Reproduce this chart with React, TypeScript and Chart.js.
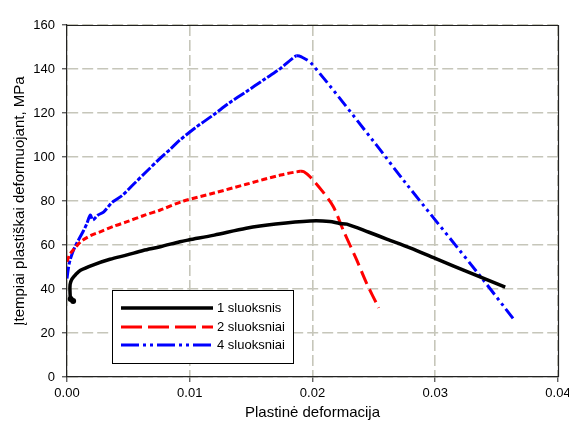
import React, { useEffect, useRef } from 'react';
import { Chart, registerables } from 'chart.js';

Chart.register(...registerables);

// ---- data ----
const seriesLabels = ['1 sluoksnis', '2 sluoksniai', '4 sluoksniai'];

const strain1 = [0.0005, 0.0003, 0.00025, 0.00025, 0.0004, 0.0007, 0.0011, 0.0021, 0.0035, 0.0049, 0.0062, 0.0076, 0.0092, 0.0099, 0.012, 0.0146, 0.017, 0.0198, 0.0214, 0.0222, 0.0228, 0.0246, 0.0261, 0.028, 0.03, 0.033, 0.0357];
const stress1 = [34.5, 35.5, 38, 42, 44.5, 46.5, 48.5, 50.9, 53.5, 55.5, 57.5, 59.2, 61.5, 62.3, 64.5, 67.6, 69.5, 70.9, 70.7, 69.8, 69.5, 65.8, 62.6, 58.6, 53.9, 47, 40.8];

const strain2 = [0, 0.0002, 0.0005, 0.0009, 0.0013, 0.002, 0.0027, 0.0038, 0.0049, 0.0062, 0.0076, 0.0095, 0.0119, 0.0146, 0.0174, 0.019, 0.0193, 0.0198, 0.0208, 0.0217, 0.0225, 0.0236, 0.0244, 0.0254];
const stress2 = [52.4, 55.5, 57.7, 60.3, 62.3, 64.5, 66, 68.5, 70.6, 73.3, 75.9, 80, 83.5, 87.6, 91.8, 93.5, 93.3, 91, 84.5, 77.4, 66.8, 53.2, 42.7, 31.4];

const strain4 = [0, 0.0001, 0.00025, 0.00065, 0.0013, 0.0016, 0.0019, 0.0021, 0.0025, 0.003, 0.0037, 0.0045, 0.0054, 0.0065, 0.0076, 0.0084, 0.0092, 0.0105, 0.0119, 0.0132, 0.0146, 0.016, 0.0174, 0.0183, 0.0187, 0.0191, 0.0199, 0.0252, 0.0274, 0.0337, 0.0364];
const stress4 = [44.8, 49, 53.2, 59.2, 66, 69.5, 73.6, 71.4, 73.5, 75.1, 79.5, 82.5, 87.5, 93.5, 99.5, 103.5, 107.7, 113.5, 119, 124.5, 129.7, 135, 140.3, 144.5, 146, 145.5, 142.6, 105.5, 89.5, 45.6, 26.2];

const xTickValues = [0, 0.01, 0.02, 0.03, 0.04];
const yTickValues = [0, 20, 40, 60, 80, 100, 120, 140, 160];

const xTitle = 'Plastinė deformacija';
const yTitle = 'Įtempiai plastiškai deformuojant, MPa';

// ---- styles ----
const colors = ['#000000', '#ff0000', '#0000ff'];
const legendDashes = [[], [21, 6], [18, 4, 3, 4, 3, 4]];
const FONT = '"Liberation Sans", Arial, sans-serif';
const GRID = '#c6c6ba';

const toPoints = (xs: number[], ys: number[]) => xs.map((x, i) => ({ x, y: ys[i] }));

const framePlugin = {
  id: 'frameAndLegend',
  afterDraw(chart: any) {
    const { ctx, chartArea } = chart;
    ctx.save();
    ctx.strokeStyle = '#222';
    ctx.lineWidth = 1.2;
    ctx.setLineDash([]);
    ctx.beginPath();
    ctx.moveTo(chartArea.left, chartArea.top + 0.5);
    ctx.lineTo(chartArea.right + 0.5, chartArea.top + 0.5);
    ctx.lineTo(chartArea.right + 0.5, chartArea.bottom);
    ctx.stroke();

    const bx = chartArea.left + 45;
    const by = chartArea.top + 265;
    const bw = 181;
    const bh = 73;
    ctx.fillStyle = '#fff';
    ctx.fillRect(bx, by, bw, bh);
    ctx.strokeStyle = '#000';
    ctx.lineWidth = 1;
    ctx.strokeRect(bx + 0.5, by + 0.5, bw, bh);
    const rows = [18, 37, 55];
    chart.data.datasets.forEach((ds: any, i: number) => {
      const y = by + rows[i];
      ctx.strokeStyle = ds.borderColor;
      ctx.lineWidth = i === 0 ? 3.5 : 3;
      ctx.setLineDash(legendDashes[i]);
      ctx.beginPath();
      ctx.moveTo(bx + 9, y);
      ctx.lineTo(bx + 101, y);
      ctx.stroke();
      ctx.setLineDash([]);
      ctx.fillStyle = '#000';
      ctx.font = `13px ${FONT}`;
      ctx.textBaseline = 'middle';
      ctx.textAlign = 'left';
      ctx.fillText(ds.label, bx + 105, y);
    });
    ctx.restore();
  },
};

export default function App() {
  const ref = useRef<HTMLCanvasElement>(null);

  useEffect(() => {
    if (!ref.current) return;
    const chart = new Chart(ref.current, {
      type: 'scatter',
      data: {
        datasets: [
          {
            label: seriesLabels[0],
            data: toPoints(strain1, stress1),
            showLine: true,
            borderColor: colors[0],
            backgroundColor: colors[0],
            borderWidth: 3.5,
            tension: 0.3,
            pointRadius: (c: any) => (c.dataIndex < 2 ? 3 : 0),
            pointBorderWidth: 0,
          },
          {
            label: seriesLabels[1],
            data: toPoints(strain2, stress2),
            showLine: true,
            borderColor: colors[1],
            backgroundColor: colors[1],
            borderWidth: 3,
            tension: 0.3,
            pointRadius: 0,
            segment: {
              borderDash: (c: any) => (c.p0.parsed.x < 0.019 ? [6, 3] : [14, 6]),
            },
          },
          {
            label: seriesLabels[2],
            data: toPoints(strain4, stress4),
            showLine: true,
            borderColor: colors[2],
            backgroundColor: colors[2],
            borderWidth: 3,
            tension: 0.3,
            pointRadius: 0,
            segment: {
              borderDash: (c: any) => (c.p0.parsed.x < 0.0187 ? [12, 2, 4, 2] : [12, 4, 3, 4, 3, 4]),
            },
          },
        ],
      } as any,
      options: {
        responsive: false,
        animation: false,
        events: [],
        layout: { padding: { left: 0, top: 25, right: 11, bottom: 0 } },
        plugins: {
          legend: { display: false },
          tooltip: { enabled: false },
        },
        scales: {
          x: {
            type: 'linear',
            min: 0,
            max: 0.04,
            afterBuildTicks: (s: any) => {
              s.ticks = xTickValues.map((v) => ({ value: v }));
            },
            afterFit: (s: any) => {
              s.height = 47;
              s.paddingRight = 0;
              s.paddingLeft = 0;
            },
            ticks: {
              callback: (v: any) => Number(v).toFixed(2),
              font: { family: FONT, size: 13 },
              color: '#000',
              padding: 4,
              maxRotation: 0,
              autoSkip: false,
            },
            grid: {
              color: GRID,
              lineWidth: 1.6,
              tickColor: '#222',
              tickLength: 5,
              tickWidth: 1,
            },
            border: { color: '#222', width: 1.2, dash: [11, 4] },
            title: {
              display: true,
              text: xTitle,
              font: { family: FONT, size: 15 },
              color: '#000',
              padding: { top: 0, bottom: 2 },
            },
          },
          y: {
            type: 'linear',
            min: 0,
            max: 160,
            afterBuildTicks: (s: any) => {
              s.ticks = yTickValues.map((v) => ({ value: v }));
            },
            afterFit: (s: any) => {
              s.width = 67;
            },
            ticks: {
              font: { family: FONT, size: 13 },
              color: '#000',
              padding: 7,
            },
            grid: {
              color: GRID,
              lineWidth: 1.6,
              tickColor: '#222',
              tickLength: 5,
              tickWidth: 1,
            },
            border: { color: '#222', width: 1.2, dash: [11, 4] },
            title: {
              display: true,
              text: yTitle,
              font: { family: FONT, size: 15 },
              color: '#000',
              padding: { top: 11, bottom: 0 },
            },
          },
        },
      } as any,
      plugins: [framePlugin],
    });
    return () => chart.destroy();
  }, []);

  return (
    <div style={{ position: 'absolute', left: 0, top: 0, width: 569, height: 424, background: '#fff' }}>
      <canvas ref={ref} width={569} height={424} style={{ display: 'block' }} />
    </div>
  );
}
